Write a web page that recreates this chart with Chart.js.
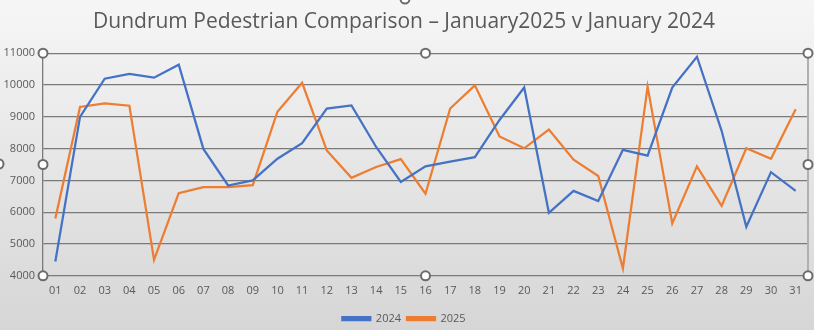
<!DOCTYPE html>
<html>
<head>
<meta charset="utf-8">
<script src="https://cdn.jsdelivr.net/npm/chart.js@4/dist/chart.umd.min.js"></script>
<style>
  html, body { margin: 0; padding: 0; background: #ffffff; }
  #wrap { width: 814px; height: 330px; position: relative; }
</style>
</head>
<body>
<div id="wrap"><canvas id="c" width="814" height="330"></canvas></div>
<script>
// Days of January
const days = ['01','02','03','04','05','06','07','08','09','10','11','12','13','14','15','16',
              '17','18','19','20','21','22','23','24','25','26','27','28','29','30','31'];

// Daily pedestrian counts
const counts2024 = [4450, 9000, 10200, 10350, 10230, 10640, 7990, 6840, 7000, 7680, 8170,
                    9260, 9360, 8050, 6950, 7440, 7590, 7730, 8900, 9920, 5980, 6670,
                    6350, 7960, 7780, 9920, 10890, 8560, 5540, 7260, 6670];
const counts2025 = [5800, 9310, 9420, 9350, 4500, 6600, 6790, 6790, 6850, 9160, 10070,
                    7940, 7080, 7420, 7670, 6580, 9260, 9990, 8380, 8010, 8600, 7650,
                    7140, 4230, 9950, 5650, 7440, 6200, 8010, 7680, 9240];

const seriesNames = ['2024', '2025'];
const yTicks = [4000, 5000, 6000, 7000, 8000, 9000, 10000, 11000];

// Soft grey vertical gradient behind the whole chart
const backdrop = {
  id: 'backdrop',
  beforeDraw(chart) {
    const { ctx, width, height } = chart;
    const g = ctx.createLinearGradient(0, 0, 0, height);
    g.addColorStop(0, '#f6f6f6');
    g.addColorStop(1, '#d6d6d6');
    ctx.save();
    ctx.fillStyle = g;
    ctx.fillRect(0, 0, width, height);
    ctx.restore();
  }
};

// Selection frame with round handles around the plot area
const handles = {
  id: 'handles',
  afterDraw(chart) {
    const { ctx, chartArea: a, width, height } = chart;
    ctx.save();
    ctx.strokeStyle = '#b0b0b0';
    ctx.lineWidth = 2;
    ctx.beginPath();
    ctx.moveTo(a.right, a.top);
    ctx.lineTo(a.right, a.bottom);
    ctx.stroke();
    const mx = (a.left + a.right) / 2, my = (a.top + a.bottom) / 2;
    const pts = [[a.left, a.top], [mx, a.top], [a.right, a.top],
                 [a.left, my], [a.right, my],
                 [a.left, a.bottom], [mx, a.bottom], [a.right, a.bottom],
                 [width / 2 - 2, -1], [-1, height / 2 - 1]];
    ctx.lineWidth = 2;
    ctx.strokeStyle = '#6b6b6b';
    ctx.fillStyle = '#ffffff';
    for (const [x, y] of pts) {
      ctx.beginPath();
      ctx.arc(x, y, 4.5, 0, Math.PI * 2);
      ctx.fill();
      ctx.stroke();
    }
    ctx.restore();
  }
};

const textGrey = '#595959';
const fontFam = '"Open Sans", "Liberation Sans", sans-serif';

new Chart(document.getElementById('c'), {
  type: 'line',
  data: {
    labels: days,
    datasets: [
      { label: seriesNames[0], data: counts2024, borderColor: '#4472C4', backgroundColor: '#4472C4',
        borderWidth: 2.25, pointRadius: 0, tension: 0 },
      { label: seriesNames[1], data: counts2025, borderColor: '#ED7D31', backgroundColor: '#ED7D31',
        borderWidth: 2.25, pointRadius: 0, tension: 0 }
    ]
  },
  options: {
    responsive: false,
    animation: false,
    layout: { padding: { left: 0, right: 6, top: 0, bottom: -4 } },
    plugins: {
      title: {
        display: true,
        text: 'Dundrum Pedestrian Comparison \u2013 January2025 v January 2024',
        color: textGrey,
        font: { family: fontFam, size: 21, weight: 'normal' },
        padding: { top: 9, bottom: 19 }
      },
      legend: {
        position: 'bottom',
        labels: {
          color: textGrey,
          font: { family: fontFam, size: 11 },
          boxWidth: 28,
          boxHeight: 3,
          padding: 6
        }
      },
      tooltip: { enabled: false }
    },
    scales: {
      x: {
        offset: true,
        afterFit(scale) { scale.height += 2; },
        grid: { display: false, drawTicks: false },
        border: { display: false },
        ticks: { color: textGrey, font: { family: fontFam, size: 11 }, maxRotation: 0, autoSkip: false, padding: 8 }
      },
      y: {
        min: 4000,
        max: 11000,
        afterFit(scale) { scale.width = 43; },
        afterBuildTicks(scale) { scale.ticks = yTicks.map(v => ({ value: v })); },
        grid: { color: '#7a7a7a', lineWidth: 1.3, drawTicks: false },
        border: { display: true, color: '#7a7a7a', width: 1.3 },
        ticks: { color: textGrey, font: { family: fontFam, size: 11 }, padding: 8,
                 callback: v => String(v) }
      }
    }
  },
  plugins: [backdrop, handles]
});
</script>
</body>
</html>
